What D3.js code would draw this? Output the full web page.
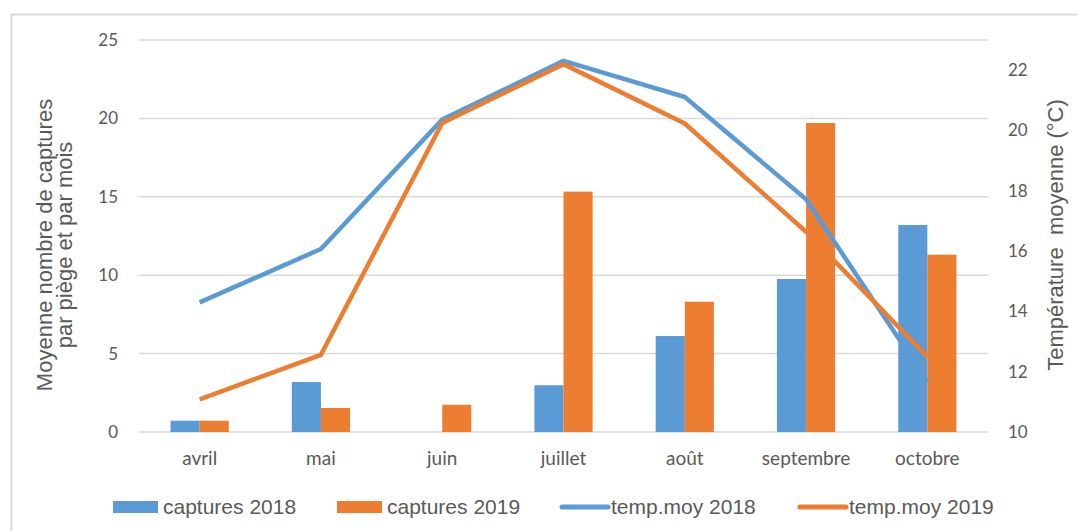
<!DOCTYPE html>
<html>
<head>
<meta charset="utf-8">
<script src="https://cdn.jsdelivr.net/npm/d3@7"></script>
<style>
  body { margin: 0; background: #fff; }
</style>
</head>
<body>
<div id="chart"></div>
<script>
var months = ["avril", "mai", "juin", "juillet", "août", "septembre", "octobre"];
var captures2018 = [0.72, 3.19, 0, 2.98, 6.12, 9.76, 13.2];
var captures2019 = [0.72, 1.53, 1.74, 15.33, 8.31, 19.71, 11.31];
var temp2018 = [14.3, 16.07, 20.36, 22.31, 21.11, 17.72, 11.67];
var temp2019 = [11.08, 12.56, 20.25, 22.2, 20.23, 16.64, 12.5];
var leftTicks = [0, 5, 10, 15, 20, 25];
var rightTicks = [10, 12, 14, 16, 18, 20, 22];

var w = 1078, h = 531;
var blue = "#5B9BD5", orange = "#ED7D31", grey = "#595959";
var arial = "'Liberation Sans', Arial, sans-serif";

var svg = d3.select("#chart").append("svg")
  .attr("width", w).attr("height", h);

// chart frame
svg.append("rect")
  .attr("x", 11.5).attr("y", 14.5)
  .attr("width", w + 20).attr("height", h + 20)
  .attr("fill", "none").attr("stroke", "#d9d9d9").attr("stroke-width", 2);

var x = d3.scaleBand().domain(months).range([139, 988]);
var yL = d3.scaleLinear().domain([0, 25]).range([432, 40]);
var yR = d3.scaleLinear().domain([10, 23]).range([432, 40]);
var barW = x.bandwidth() * 0.24;

// gridlines
svg.append("g").selectAll("line")
  .data(leftTicks).enter().append("line")
  .attr("x1", 139).attr("x2", 988)
  .attr("y1", function(d) { return yL(d); })
  .attr("y2", function(d) { return yL(d); })
  .attr("stroke", "#d9d9d9").attr("stroke-width", 1.5);

// left axis
var axL = svg.append("g").attr("transform", "translate(139,0)")
  .call(d3.axisLeft(yL).tickValues(leftTicks).tickSize(0).tickPadding(21));
axL.select(".domain").remove();
axL.selectAll("text").attr("fill", grey).attr("font-family", "Lato, sans-serif").attr("font-size", "17px");

// right axis
var axR = svg.append("g").attr("transform", "translate(988,0)")
  .call(d3.axisRight(yR).tickValues(rightTicks).tickSize(0).tickPadding(20));
axR.select(".domain").remove();
axR.selectAll("text").attr("fill", grey).attr("font-family", "Lato, sans-serif").attr("font-size", "17px");

// x axis
var axX = svg.append("g").attr("transform", "translate(0,432)")
  .call(d3.axisBottom(x).tickSize(0).tickPadding(20));
axX.select(".domain").remove();
axX.selectAll("text").attr("fill", grey).attr("font-family", "Lato, sans-serif").attr("font-size", "19px");

// bars
svg.append("g").selectAll("rect")
  .data(captures2018).enter().append("rect")
  .attr("x", function(d, i) { return x(months[i]) + x.bandwidth() / 2 - barW; })
  .attr("y", function(d) { return yL(d); })
  .attr("width", barW)
  .attr("height", function(d) { return yL(0) - yL(d); })
  .attr("fill", blue);

svg.append("g").selectAll("rect")
  .data(captures2019).enter().append("rect")
  .attr("x", function(d, i) { return x(months[i]) + x.bandwidth() / 2; })
  .attr("y", function(d) { return yL(d); })
  .attr("width", barW)
  .attr("height", function(d) { return yL(0) - yL(d); })
  .attr("fill", orange);

// temperature lines
var line = d3.line()
  .x(function(d, i) { return x(months[i]) + x.bandwidth() / 2; })
  .y(function(d) { return yR(d); });

svg.append("path").datum(temp2018)
  .attr("d", line).attr("fill", "none")
  .attr("stroke", blue).attr("stroke-width", 4.5).attr("stroke-linejoin", "round");

svg.append("path").datum(temp2019)
  .attr("d", line).attr("fill", "none")
  .attr("stroke", orange).attr("stroke-width", 4.5).attr("stroke-linejoin", "round");

// axis titles
var lt = svg.append("text")
  .attr("transform", "translate(52,245) rotate(-90)")
  .attr("text-anchor", "middle")
  .attr("fill", grey).attr("font-family", arial).attr("font-size", "22px");
lt.append("tspan").attr("x", 0).attr("dy", 0).text("Moyenne nombre de captures");
lt.append("tspan").attr("x", 0).attr("dy", 20).text("par piège et par mois");

svg.append("text")
  .attr("transform", "translate(1063,235) rotate(-90)")
  .attr("text-anchor", "middle")
  .attr("fill", grey).attr("font-family", arial).attr("font-size", "22px")
  .attr("xml:space", "preserve").style("white-space", "pre")
  .text("Température  moyenne (°C)");

// legend
var legend = [
  { name: "captures 2018", color: blue, type: "bar", x: 113 },
  { name: "captures 2019", color: orange, type: "bar", x: 337 },
  { name: "temp.moy 2018", color: blue, type: "line", x: 560 },
  { name: "temp.moy 2019", color: orange, type: "line", x: 798 }
];
var lg = svg.append("g").selectAll("g")
  .data(legend).enter().append("g")
  .attr("transform", function(d) { return "translate(" + d.x + ",507)"; });

lg.filter(function(d) { return d.type == "bar"; })
  .append("rect")
  .attr("x", 0).attr("y", -6).attr("width", 45).attr("height", 12)
  .attr("fill", function(d) { return d.color; });

lg.filter(function(d) { return d.type == "line"; })
  .append("line")
  .attr("x1", 2).attr("x2", 48).attr("y1", 0).attr("y2", 0)
  .attr("stroke", function(d) { return d.color; })
  .attr("stroke-width", 5).attr("stroke-linecap", "round");

lg.append("text")
  .attr("x", function(d) { return d.type == "bar" ? 50 : 51; })
  .attr("y", 7)
  .attr("fill", grey).attr("font-family", arial).attr("font-size", "21px")
  .text(function(d) { return d.name; });
</script>
</body>
</html>
